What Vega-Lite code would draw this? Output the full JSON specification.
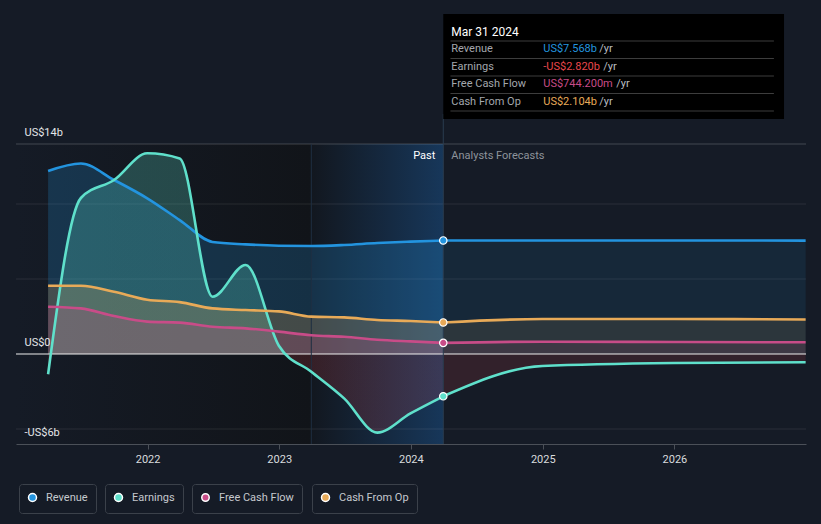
{
  "$schema": "https://vega.github.io/schema/vega-lite/v6.json",
  "width": 790,
  "height": 300,
  "autosize": {"type": "none"},
  "padding": {"left": 16, "top": 144, "right": 15, "bottom": 80},
  "background": "#151b26",
  "config": {
    "view": {"stroke": null},
    "font": "Roboto",
    "text": {"font": "Roboto"},
    "legend": {
      "orient": "none",
      "direction": "horizontal",
      "labelColor": "#c5c9ce",
      "labelFontSize": 11,
      "labelFont": "Roboto",
      "strokeColor": "#3b414a",
      "padding": 8,
      "cornerRadius": 3,
      "symbolType": "circle",
      "symbolSize": 64,
      "labelOffset": 8
    }
  },
  "datasets": {
    "series": [
      {"date": "2021-03-31", "series": "Revenue", "phase": "past", "value": 12.2},
      {"date": "2021-06-30", "series": "Revenue", "phase": "past", "value": 12.7},
      {"date": "2021-09-30", "series": "Revenue", "phase": "past", "value": 11.6},
      {"date": "2021-12-31", "series": "Revenue", "phase": "past", "value": 10.38},
      {"date": "2022-03-31", "series": "Revenue", "phase": "past", "value": 8.93},
      {"date": "2022-06-30", "series": "Revenue", "phase": "past", "value": 7.47},
      {"date": "2022-09-30", "series": "Revenue", "phase": "past", "value": 7.31},
      {"date": "2022-12-31", "series": "Revenue", "phase": "past", "value": 7.22},
      {"date": "2023-03-31", "series": "Revenue", "phase": "past", "value": 7.2},
      {"date": "2023-06-30", "series": "Revenue", "phase": "past", "value": 7.27},
      {"date": "2023-09-30", "series": "Revenue", "phase": "past", "value": 7.4},
      {"date": "2023-12-31", "series": "Revenue", "phase": "past", "value": 7.49},
      {"date": "2024-03-31", "series": "Revenue", "phase": "past", "value": 7.568},
      {"date": "2024-03-31", "series": "Revenue", "phase": "forecast", "value": 7.568},
      {"date": "2024-12-31", "series": "Revenue", "phase": "forecast", "value": 7.57},
      {"date": "2025-12-31", "series": "Revenue", "phase": "forecast", "value": 7.57},
      {"date": "2026-12-31", "series": "Revenue", "phase": "forecast", "value": 7.56},
      {"date": "2021-03-31", "series": "Earnings", "phase": "past", "value": -1.35},
      {"date": "2021-06-30", "series": "Earnings", "phase": "past", "value": 10.4},
      {"date": "2021-09-30", "series": "Earnings", "phase": "past", "value": 11.6},
      {"date": "2021-12-31", "series": "Earnings", "phase": "past", "value": 13.38},
      {"date": "2022-03-31", "series": "Earnings", "phase": "past", "value": 13.04},
      {"date": "2022-06-30", "series": "Earnings", "phase": "past", "value": 3.82},
      {"date": "2022-09-30", "series": "Earnings", "phase": "past", "value": 5.93},
      {"date": "2022-12-31", "series": "Earnings", "phase": "past", "value": 0.55},
      {"date": "2023-03-31", "series": "Earnings", "phase": "past", "value": -1.18},
      {"date": "2023-06-30", "series": "Earnings", "phase": "past", "value": -2.96},
      {"date": "2023-09-30", "series": "Earnings", "phase": "past", "value": -5.24},
      {"date": "2023-12-31", "series": "Earnings", "phase": "past", "value": -3.96},
      {"date": "2024-03-31", "series": "Earnings", "phase": "past", "value": -2.82},
      {"date": "2024-03-31", "series": "Earnings", "phase": "forecast", "value": -2.82},
      {"date": "2024-12-31", "series": "Earnings", "phase": "forecast", "value": -0.8},
      {"date": "2025-12-31", "series": "Earnings", "phase": "forecast", "value": -0.6},
      {"date": "2026-12-31", "series": "Earnings", "phase": "forecast", "value": -0.55},
      {"date": "2021-03-31", "series": "Free Cash Flow", "phase": "past", "value": 3.15},
      {"date": "2021-06-30", "series": "Free Cash Flow", "phase": "past", "value": 3.04},
      {"date": "2021-09-30", "series": "Free Cash Flow", "phase": "past", "value": 2.53},
      {"date": "2021-12-31", "series": "Free Cash Flow", "phase": "past", "value": 2.16},
      {"date": "2022-03-31", "series": "Free Cash Flow", "phase": "past", "value": 2.09},
      {"date": "2022-06-30", "series": "Free Cash Flow", "phase": "past", "value": 1.82},
      {"date": "2022-09-30", "series": "Free Cash Flow", "phase": "past", "value": 1.71},
      {"date": "2022-12-31", "series": "Free Cash Flow", "phase": "past", "value": 1.49},
      {"date": "2023-03-31", "series": "Free Cash Flow", "phase": "past", "value": 1.25},
      {"date": "2023-06-30", "series": "Free Cash Flow", "phase": "past", "value": 1.15},
      {"date": "2023-09-30", "series": "Free Cash Flow", "phase": "past", "value": 0.95},
      {"date": "2023-12-31", "series": "Free Cash Flow", "phase": "past", "value": 0.84},
      {"date": "2024-03-31", "series": "Free Cash Flow", "phase": "past", "value": 0.744},
      {"date": "2024-03-31", "series": "Free Cash Flow", "phase": "forecast", "value": 0.744},
      {"date": "2024-12-31", "series": "Free Cash Flow", "phase": "forecast", "value": 0.82},
      {"date": "2025-12-31", "series": "Free Cash Flow", "phase": "forecast", "value": 0.8},
      {"date": "2026-12-31", "series": "Free Cash Flow", "phase": "forecast", "value": 0.78},
      {"date": "2021-03-31", "series": "Cash From Op", "phase": "past", "value": 4.55},
      {"date": "2021-06-30", "series": "Cash From Op", "phase": "past", "value": 4.55},
      {"date": "2021-09-30", "series": "Cash From Op", "phase": "past", "value": 4.15},
      {"date": "2021-12-31", "series": "Cash From Op", "phase": "past", "value": 3.62},
      {"date": "2022-03-31", "series": "Cash From Op", "phase": "past", "value": 3.46},
      {"date": "2022-06-30", "series": "Cash From Op", "phase": "past", "value": 3.04},
      {"date": "2022-09-30", "series": "Cash From Op", "phase": "past", "value": 2.93},
      {"date": "2022-12-31", "series": "Cash From Op", "phase": "past", "value": 2.84},
      {"date": "2023-03-31", "series": "Cash From Op", "phase": "past", "value": 2.49},
      {"date": "2023-06-30", "series": "Cash From Op", "phase": "past", "value": 2.44},
      {"date": "2023-09-30", "series": "Cash From Op", "phase": "past", "value": 2.27},
      {"date": "2023-12-31", "series": "Cash From Op", "phase": "past", "value": 2.2},
      {"date": "2024-03-31", "series": "Cash From Op", "phase": "past", "value": 2.104},
      {"date": "2024-03-31", "series": "Cash From Op", "phase": "forecast", "value": 2.104},
      {"date": "2024-12-31", "series": "Cash From Op", "phase": "forecast", "value": 2.33},
      {"date": "2025-12-31", "series": "Cash From Op", "phase": "forecast", "value": 2.33},
      {"date": "2026-12-31", "series": "Cash From Op", "phase": "forecast", "value": 2.3}
    ],
    "latest": [
      {"date": "2024-03-31", "series": "Revenue", "value": 7.568},
      {"date": "2024-03-31", "series": "Earnings", "value": -2.82},
      {"date": "2024-03-31", "series": "Free Cash Flow", "value": 0.744},
      {"date": "2024-03-31", "series": "Cash From Op", "value": 2.104}
    ],
    "tooltip": [
      {"row": 0, "label": "Mar 31 2024"},
      {"row": 1, "label": "Revenue", "value": "US$7.568b", "series": "Revenue"},
      {"row": 2, "label": "Earnings", "value": "-US$2.820b", "series": "Earnings"},
      {"row": 3, "label": "Free Cash Flow", "value": "US$744.200m", "series": "Free Cash Flow"},
      {"row": 4, "label": "Cash From Op", "value": "US$2.104b", "series": "Cash From Op"}
    ]
  },
  "layer": [
    {
      "layer": [
        {
          "data": {"values": [{}]},
          "mark": {"type": "rect", "fill": {"gradient": "linear", "x1": 0, "y1": 0, "x2": 1, "y2": 0, "stops": [{"offset": 0, "color": "#151b26"}, {"offset": 1, "color": "#111419"}]}},
          "encoding": {
            "x": {"datum": {"year": 2021, "month": 1, "date": 1, "utc": true}, "type": "temporal",
              "scale": {"type": "utc", "domain": [{"year": 2021, "month": 1, "date": 1, "utc": true}, {"year": 2027, "month": 1, "date": 1, "utc": true}]},
              "axis": {"values": [{"year": 2022, "month": 1, "date": 1, "utc": true}, {"year": 2023, "month": 1, "date": 1, "utc": true}, {"year": 2024, "month": 1, "date": 1, "utc": true}, {"year": 2025, "month": 1, "date": 1, "utc": true}, {"year": 2026, "month": 1, "date": 1, "utc": true}],
                "format": "%Y", "labelColor": "#d9dbde", "labelFontSize": 11, "labelFont": "Roboto", "tickColor": "#4b5058", "tickSize": 5, "domainColor": "#4b5058", "grid": false, "labelPadding": 4, "title": null, "labelFlush": false}},
            "x2": {"datum": {"year": 2023, "month": 3, "date": 31, "utc": true}},
            "y": {"datum": -6, "type": "quantitative", "scale": {"domain": [-6, 14], "nice": false, "zero": false},
              "axis": {"values": [14, 0, -6], "labelExpr": "datum.value == 0 ? 'US$0' : (datum.value < 0 ? '-US$' + abs(datum.value) + 'b' : 'US$' + datum.value + 'b')",
                "labelAlign": "left", "labelBaseline": "middle", "labelPadding": -8, "labelOffset": -12, "ticks": false, "tickSize": 0, "domain": false, "grid": false, "title": null,
                "labelColor": "#e3e5e8", "labelFontSize": 11, "labelFont": "Roboto", "zindex": 1}},
            "y2": {"datum": 14}
          }
        },
        {
          "data": {"values": [{}]},
          "mark": {"type": "rect", "fill": {"gradient": "linear", "x1": 0, "y1": 0, "x2": 1, "y2": 0, "stops": [{"offset": 0, "color": "#12171f"}, {"offset": 1, "color": "#17375a"}]}},
          "encoding": {
            "x": {"datum": {"year": 2023, "month": 3, "date": 31, "utc": true}, "type": "temporal"},
            "x2": {"datum": {"year": 2024, "month": 3, "date": 31, "utc": true}},
            "y": {"datum": -6, "type": "quantitative"},
            "y2": {"datum": 14}
          }
        },
        {
          "data": {"values": [{"g": 14}, {"g": 10}, {"g": 5}, {"g": -5}]},
          "mark": {"type": "rule", "color": "#ffffff", "strokeWidth": 1},
          "encoding": {
            "y": {"field": "g", "type": "quantitative", "title": null},
            "opacity": {"condition": {"test": "datum.g === 14", "value": 0.2}, "value": 0.09}
          }
        },
        {
          "data": {"name": "series"},
          "transform": [{"filter": "datum.series === 'Revenue'"}],
          "mark": {"type": "area", "interpolate": "monotone", "color": "#2394df"},
          "encoding": {
            "x": {"field": "date", "type": "temporal", "title": null},
            "y": {"field": "value", "type": "quantitative", "title": null},
            "y2": {"datum": 0},
            "fillOpacity": {"field": "phase", "type": "nominal", "scale": {"domain": ["past", "forecast"], "range": [0.22, 0.11]}, "legend": null}
          }
        },
        {
          "data": {"name": "series"},
          "transform": [{"filter": "datum.series === 'Earnings' && datum.phase === 'past'"}],
          "mark": {"type": "area", "interpolate": "monotone", "fill": {"gradient": "linear", "x1": 0, "y1": 0, "x2": 0, "y2": 1, "stops": [
            {"offset": 0, "color": "rgba(95,224,203,0.25)"},
            {"offset": 0.7186, "color": "rgba(95,224,203,0.25)"},
            {"offset": 0.7186, "color": "rgba(229,72,77,0.17)"},
            {"offset": 1, "color": "rgba(229,72,77,0.17)"}]}},
          "encoding": {
            "x": {"field": "date", "type": "temporal", "title": null},
            "y": {"field": "value", "type": "quantitative", "title": null},
            "y2": {"datum": 0}
          }
        },
        {
          "data": {"name": "series"},
          "transform": [{"filter": "datum.series === 'Earnings' && datum.phase === 'forecast'"}],
          "mark": {"type": "area", "interpolate": "monotone", "fill": "#e5484d", "fillOpacity": 0.14},
          "encoding": {
            "x": {"field": "date", "type": "temporal", "title": null},
            "y": {"field": "value", "type": "quantitative", "title": null},
            "y2": {"datum": 0}
          }
        },
        {
          "data": {"name": "series"},
          "transform": [{"filter": "datum.series === 'Cash From Op'"}],
          "mark": {"type": "area", "interpolate": "monotone", "color": "#e8aa58"},
          "encoding": {
            "x": {"field": "date", "type": "temporal", "title": null},
            "y": {"field": "value", "type": "quantitative", "title": null},
            "y2": {"datum": 0},
            "fillOpacity": {"field": "phase", "type": "nominal", "legend": null}
          }
        },
        {
          "data": {"name": "series"},
          "transform": [{"filter": "datum.series === 'Free Cash Flow'"}],
          "mark": {"type": "area", "interpolate": "monotone", "color": "#c84c88"},
          "encoding": {
            "x": {"field": "date", "type": "temporal", "title": null},
            "y": {"field": "value", "type": "quantitative", "title": null},
            "y2": {"datum": 0},
            "fillOpacity": {"field": "phase", "type": "nominal", "legend": null}
          }
        },
        {
          "data": {"values": [{}]},
          "mark": {"type": "rule", "color": "#eeeeee", "strokeWidth": 1},
          "encoding": {"y": {"datum": 0, "type": "quantitative"}}
        },
        {
          "data": {"values": [{}]},
          "mark": {"type": "rule", "color": "#1e2f42", "strokeWidth": 1},
          "encoding": {
            "x": {"datum": {"year": 2023, "month": 3, "date": 31, "utc": true}, "type": "temporal"},
            "y": {"datum": -6, "type": "quantitative"},
            "y2": {"datum": 14}
          }
        },
        {
          "data": {"values": [{}]},
          "mark": {"type": "rule", "color": "#2a3c50", "strokeWidth": 1},
          "encoding": {
            "x": {"datum": {"year": 2024, "month": 3, "date": 31, "utc": true}, "type": "temporal"},
            "y": {"datum": -6, "type": "quantitative"},
            "y2": {"datum": 16}
          }
        },
        {
          "data": {"name": "series"},
          "mark": {"type": "line", "interpolate": "monotone", "strokeWidth": 2.6},
          "encoding": {
            "x": {"field": "date", "type": "temporal", "title": null},
            "y": {"field": "value", "type": "quantitative", "title": null},
            "color": {"field": "series", "type": "nominal", "scale": {"domain": ["Revenue", "Earnings", "Free Cash Flow", "Cash From Op"], "range": ["#2394df", "#5fe0cb", "#c84c88", "#e8aa58"]}, "legend": null},
            "detail": {"field": "phase"}
          }
        },
        {
          "data": {"name": "latest"},
          "transform": [{"filter": "datum.series === 'Revenue'"}],
          "mark": {"type": "point", "filled": true, "shape": "circle", "size": 55, "stroke": "#ffffff", "strokeWidth": 1.2, "opacity": 1},
          "encoding": {
            "x": {"field": "date", "type": "temporal", "title": null},
            "y": {"field": "value", "type": "quantitative", "title": null},
            "fill": {"field": "series", "type": "nominal", "scale": {"domain": ["Revenue"], "range": ["#2394df"]},
              "legend": {"title": null, "legendX": 3, "legendY": 340, "encode": {"symbols": {"update": {"fill": {"value": "#2394df"}, "stroke": {"value": "transparent"}, "strokeWidth": {"value": 0}, "opacity": {"value": 1}, "size": {"value": 64}}}}}}
          }
        },
        {
          "data": {"name": "latest"},
          "transform": [{"filter": "datum.series === 'Earnings'"}],
          "mark": {"type": "point", "filled": true, "fill": "#5fe0cb", "size": 55, "stroke": "#ffffff", "strokeWidth": 1.2, "opacity": 1},
          "encoding": {
            "x": {"field": "date", "type": "temporal", "title": null},
            "y": {"field": "value", "type": "quantitative", "title": null},
            "shape": {"field": "series", "type": "nominal", "scale": {"domain": ["Earnings"], "range": ["circle"]},
              "legend": {"title": null, "legendX": 89, "legendY": 340, "encode": {"symbols": {"update": {"fill": {"value": "#5fe0cb"}, "stroke": {"value": "transparent"}, "strokeWidth": {"value": 0}, "opacity": {"value": 1}, "size": {"value": 64}}}}}}
          }
        },
        {
          "data": {"name": "latest"},
          "transform": [{"filter": "datum.series === 'Free Cash Flow'"}],
          "mark": {"type": "point", "filled": true, "shape": "circle", "fill": "#c84c88", "stroke": "#ffffff", "strokeWidth": 1.2, "opacity": 1},
          "encoding": {
            "x": {"field": "date", "type": "temporal", "title": null},
            "y": {"field": "value", "type": "quantitative", "title": null},
            "size": {"field": "series", "type": "ordinal", "scale": {"domain": ["Free Cash Flow"], "range": [55, 55]},
              "legend": {"title": null, "legendX": 176, "legendY": 340, "encode": {"symbols": {"update": {"fill": {"value": "#c84c88"}, "stroke": {"value": "transparent"}, "strokeWidth": {"value": 0}, "opacity": {"value": 1}, "size": {"value": 64}, "shape": {"value": "circle"}}}}}}
          }
        },
        {
          "data": {"name": "latest"},
          "transform": [{"filter": "datum.series === 'Cash From Op'"}],
          "mark": {"type": "point", "filled": true, "shape": "circle", "fill": "#e8aa58", "size": 55, "stroke": "#ffffff", "strokeWidth": 1.2},
          "encoding": {
            "x": {"field": "date", "type": "temporal", "title": null},
            "y": {"field": "value", "type": "quantitative", "title": null},
            "opacity": {"field": "series", "type": "ordinal", "scale": {"domain": ["Cash From Op"], "range": [1, 1]},
              "legend": {"title": null, "legendX": 296, "legendY": 340, "encode": {"symbols": {"update": {"fill": {"value": "#e8aa58"}, "stroke": {"value": "transparent"}, "strokeWidth": {"value": 0}, "opacity": {"value": 1}, "size": {"value": 64}, "shape": {"value": "circle"}}}}}}
          }
        },
        {
          "data": {"values": [{}]},
          "mark": {"type": "text", "text": "Past", "align": "right", "baseline": "middle", "dx": -8, "fontSize": 11, "color": "#ffffff"},
          "encoding": {
            "x": {"datum": {"year": 2024, "month": 3, "date": 31, "utc": true}, "type": "temporal"},
            "y": {"datum": 13.2, "type": "quantitative"}
          }
        },
        {
          "data": {"values": [{}]},
          "mark": {"type": "text", "text": "Analysts Forecasts", "align": "left", "baseline": "middle", "dx": 8, "fontSize": 11, "color": "#8d939b"},
          "encoding": {
            "x": {"datum": {"year": 2024, "month": 3, "date": 31, "utc": true}, "type": "temporal"},
            "y": {"datum": 13.2, "type": "quantitative"}
          }
        }
      ]
    },
    {
      "layer": [
        {
          "data": {"values": [{}]},
          "mark": {"type": "rect", "fill": "#000000"},
          "encoding": {
            "x": {"datum": {"year": 2024, "month": 3, "date": 31, "utc": true}, "type": "temporal"},
            "x2": {"datum": {"year": 2026, "month": 11, "date": 1, "utc": true}},
            "y": {"datum": -1, "type": "quantitative", "scale": {"domain": [-1, 5], "range": [-130, -25], "nice": false, "zero": false}, "axis": null},
            "y2": {"datum": 5}
          }
        },
        {
          "data": {"name": "tooltip"},
          "mark": {"type": "rule", "color": "#3d3d3d", "strokeWidth": 1, "yOffset": 9.5},
          "encoding": {
            "x": {"datum": {"year": 2024, "month": 4, "date": 20, "utc": true}, "type": "temporal"},
            "x2": {"datum": {"year": 2026, "month": 10, "date": 4, "utc": true}},
            "y": {"field": "row", "type": "quantitative", "axis": null}
          }
        },
        {
          "data": {"name": "tooltip"},
          "transform": [{"filter": "datum.row === 0"}],
          "mark": {"type": "text", "align": "left", "baseline": "middle", "dx": 8, "fontSize": 12, "color": "#ffffff"},
          "encoding": {
            "x": {"datum": {"year": 2024, "month": 3, "date": 31, "utc": true}, "type": "temporal"},
            "y": {"field": "row", "type": "quantitative", "axis": null},
            "text": {"field": "label"}
          }
        },
        {
          "data": {"name": "tooltip"},
          "transform": [{"filter": "datum.row > 0"}],
          "mark": {"type": "text", "align": "left", "baseline": "middle", "dx": 8, "fontSize": 11, "color": "#a3a7ad"},
          "encoding": {
            "x": {"datum": {"year": 2024, "month": 3, "date": 31, "utc": true}, "type": "temporal"},
            "y": {"field": "row", "type": "quantitative", "axis": null},
            "text": {"field": "label"}
          }
        },
        {
          "data": {"name": "tooltip"},
          "transform": [{"filter": "datum.row > 0"}],
          "mark": {"type": "text", "align": "left", "baseline": "middle", "dx": 100, "fontSize": 11},
          "encoding": {
            "x": {"datum": {"year": 2024, "month": 3, "date": 31, "utc": true}, "type": "temporal"},
            "y": {"field": "row", "type": "quantitative", "axis": null},
            "text": {"field": "value"},
            "color": {"condition": {"test": "datum.series === 'Earnings'", "value": "#e8474c"}, "field": "series", "type": "nominal", "legend": null}
          }
        },
        {
          "data": {"name": "tooltip"},
          "transform": [{"filter": "datum.series === 'Revenue' || datum.series === 'Cash From Op'"}],
          "mark": {"type": "text", "text": "/yr", "align": "left", "baseline": "middle", "dx": 156, "fontSize": 11, "color": "#b9bcc0"},
          "encoding": {
            "x": {"datum": {"year": 2024, "month": 3, "date": 31, "utc": true}, "type": "temporal"},
            "y": {"field": "row", "type": "quantitative", "axis": null}
          }
        },
        {
          "data": {"name": "tooltip"},
          "transform": [{"filter": "datum.series === 'Earnings'"}],
          "mark": {"type": "text", "text": "/yr", "align": "left", "baseline": "middle", "dx": 160, "fontSize": 11, "color": "#b9bcc0"},
          "encoding": {
            "x": {"datum": {"year": 2024, "month": 3, "date": 31, "utc": true}, "type": "temporal"},
            "y": {"field": "row", "type": "quantitative", "axis": null}
          }
        },
        {
          "data": {"name": "tooltip"},
          "transform": [{"filter": "datum.series === 'Free Cash Flow'"}],
          "mark": {"type": "text", "text": "/yr", "align": "left", "baseline": "middle", "dx": 173, "fontSize": 11, "color": "#b9bcc0"},
          "encoding": {
            "x": {"datum": {"year": 2024, "month": 3, "date": 31, "utc": true}, "type": "temporal"},
            "y": {"field": "row", "type": "quantitative", "axis": null}
          }
        }
      ]
    }
  ],
  "resolve": {"scale": {"y": "independent"}}
}
